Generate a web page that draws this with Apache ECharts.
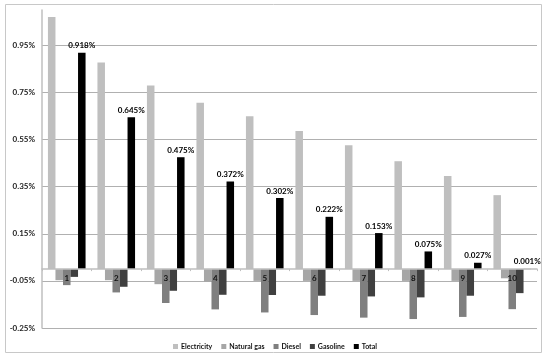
<!DOCTYPE html>
<html>
<head>
<meta charset="utf-8">
<script src="https://cdn.jsdelivr.net/npm/echarts@6/dist/echarts.min.js"></script>
<style>html,body{margin:0;padding:0;background:#fff;}#c{width:550px;height:362px;}</style>
</head>
<body>
<div id="c"></div>
<script>
var categories = ['1','2','3','4','5','6','7','8','9','10'];
var seriesNames = ['Electricity','Natural gas','Diesel','Gasoline','Total'];
var electricity = [1.070, 0.877, 0.779, 0.706, 0.649, 0.586, 0.526, 0.458, 0.395, 0.314];
var naturalGas = [-0.047, -0.047, -0.064, -0.054, -0.050, -0.050, -0.050, -0.050, -0.050, -0.039];
var diesel = [-0.068, -0.099, -0.144, -0.171, -0.184, -0.195, -0.206, -0.212, -0.203, -0.170];
var gasoline = [-0.033, -0.075, -0.092, -0.109, -0.110, -0.113, -0.116, -0.120, -0.113, -0.102];
var total = [0.918, 0.645, 0.475, 0.372, 0.302, 0.222, 0.153, 0.075, 0.027, 0.001];
var yTicks = { min: -0.25, max: 1.1, interval: 0.2 };

var colors = ['#bfbfbf', '#a6a6a6', '#7f7f7f', '#404040', '#000000'];
var FONT = 'Lato, "Liberation Sans", sans-serif';
var dataArr = [electricity, naturalGas, diesel, gasoline, total];

var series = seriesNames.map(function (n, i) {
  var s = {
    name: n,
    type: 'bar',
    data: dataArr[i],
    barGap: '0%',
    barCategoryGap: '24%',
    itemStyle: { color: colors[i] },
    emphasis: { disabled: true }
  };
  if (n === 'Total') {
    s.label = {
      show: true,
      position: 'top',
      distance: 3,
      fontFamily: FONT,
      fontWeight: 'bold',
      fontSize: 8,
      color: '#000',
      formatter: function (p) { return p.value.toFixed(3) + '%'; }
    };
  }
  return s;
});

// category labels placed next to the zero line (Excel style)
series.push({
  name: 'catLabels',
  type: 'scatter',
  data: categories.map(function (c) { return [c, 0]; }),
  symbolSize: 1,
  itemStyle: { opacity: 0 },
  silent: true,
  zlevel: 1,
  z: 20,
  label: {
    show: true,
    position: 'bottom',
    distance: 5,
    fontFamily: FONT,
    fontWeight: 'bold',
    fontSize: 8,
    color: '#111',
    opacity: 1,
    textBorderWidth: 0,
    formatter: function (p) { return p.value[0]; }
  },
  emphasis: { disabled: true }
});

var chart = echarts.init(document.getElementById('c'), null, { renderer: 'canvas' });
chart.setOption({
  animation: false,
  backgroundColor: '#fff',
  color: colors,
  textStyle: { fontFamily: FONT },
  graphic: [{
    type: 'rect',
    shape: { x: 5.5, y: 4.5, width: 536, height: 348 },
    style: { fill: 'none', stroke: '#c8c8c8', lineWidth: 1 },
    silent: true,
    z: -10
  }],
  grid: { left: 42, right: 13, top: 10, bottom: 34, containLabel: false },
  legend: {
    data: seriesNames,
    left: 'center',
    top: 338,
    itemWidth: 5,
    itemHeight: 5,
    itemGap: 9,
    icon: 'rect',
    textStyle: { fontFamily: FONT, fontWeight: 'bold', fontSize: 7, color: '#111', padding: [0, 0, 0, -2] }
  },
  xAxis: {
    type: 'category',
    data: categories,
    z: 10,
    axisLine: { onZero: true, lineStyle: { color: '#bfbfbf', width: 1.5 } },
    axisTick: { show: true, length: 2, lineStyle: { color: '#bfbfbf' } },
    axisLabel: { show: false },
    splitLine: { show: false }
  },
  yAxis: {
    type: 'value',
    min: yTicks.min,
    max: yTicks.max,
    interval: yTicks.interval,
    axisLine: { show: true, lineStyle: { color: '#bfbfbf', width: 1.5 } },
    axisTick: { show: false },
    axisLabel: {
      showMaxLabel: false,
      margin: 7,
      fontFamily: FONT, fontWeight: 'bold', fontSize: 8, color: '#222',
      formatter: function (v) { return v.toFixed(2) + '%'; }
    },
    splitLine: { show: true, showMaxLine: false, showMinLine: true, lineStyle: { color: '#b0b0b0', width: 1 } }
  },
  series: series
});
</script>
</body>
</html>
